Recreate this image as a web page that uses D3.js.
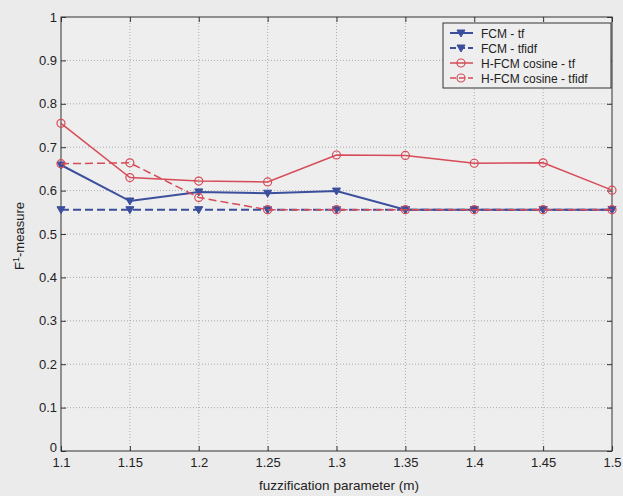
<!DOCTYPE html>
<html>
<head>
<meta charset="utf-8">
<script src="https://cdn.jsdelivr.net/npm/d3@7"></script>
<style>
  html, body { margin: 0; padding: 0; background: #ebebeb; }
  svg { display: block; font-family: "Liberation Sans", Arial, sans-serif; }
</style>
</head>
<body>
<div id="chart"></div>
<script>
// x values (fuzzification parameter m)
const mValues = [1.1, 1.15, 1.2, 1.25, 1.3, 1.35, 1.4, 1.45, 1.5];
const xTicks = [1.1, 1.15, 1.2, 1.25, 1.3, 1.35, 1.4, 1.45, 1.5];
const yTicks = [0, 0.1, 0.2, 0.3, 0.4, 0.5, 0.6, 0.7, 0.8, 0.9, 1];

// F1-measure per series
const fcmTf = [0.659, 0.576, 0.597, 0.594, 0.599, 0.556, 0.556, 0.556, 0.556];
const fcmTfidf = [0.556, 0.556, 0.556, 0.556, 0.556, 0.556, 0.556, 0.556, 0.556];
const hfcmTf = [0.755, 0.630, 0.622, 0.620, 0.682, 0.681, 0.663, 0.664, 0.601];
const hfcmTfidf = [0.662, 0.664, 0.584, 0.556, 0.556, 0.556, 0.556, 0.556, 0.556];

const seriesNames = ['FCM - tf', 'FCM - tfidf', 'H-FCM cosine - tf', 'H-FCM cosine - tfidf'];

const blue = '#3b4f9c';
const red = '#d64b57';
const series = [
    { name: seriesNames[0], values: fcmTf, color: blue, dash: null, marker: 'tri' },
    { name: seriesNames[1], values: fcmTfidf, color: blue, dash: '8,4', marker: 'tri' },
    { name: seriesNames[2], values: hfcmTf, color: red, dash: null, marker: 'circle' },
    { name: seriesNames[3], values: hfcmTfidf, color: red, dash: '8,4', marker: 'circle' }
];

const w = 623;
const h = 496;
const plotL = 61, plotR = 612, plotT = 17, plotB = 451;

const svg = d3.select('#chart')
    .append('svg')
    .attr('width', w)
    .attr('height', h);

const xScale = d3.scaleLinear().domain([1.1, 1.5]).range([plotL, plotR]);
const yScale = d3.scaleLinear().domain([0, 1]).range([plotB, plotT]);

// plot background
svg.append('rect')
    .attr('x', plotL).attr('y', plotT)
    .attr('width', plotR - plotL).attr('height', plotB - plotT)
    .attr('fill', '#eeeeee');

// dotted grid
const grid = svg.append('g').attr('stroke', '#9a9a9a').attr('stroke-width', 0.8)
    .attr('stroke-dasharray', '1,2');
grid.selectAll('line.gx')
    .data(xTicks.slice(1, -1))
    .enter().append('line')
    .attr('x1', d => xScale(d)).attr('x2', d => xScale(d))
    .attr('y1', plotT).attr('y2', plotB);
grid.selectAll('line.gy')
    .data(yTicks.slice(1, -1))
    .enter().append('line')
    .attr('x1', plotL).attr('x2', plotR)
    .attr('y1', d => yScale(d)).attr('y2', d => yScale(d));

// axes with inward ticks on all four sides
const axisStyle = g => {
    g.select('.domain').remove();
    g.selectAll('.tick line').attr('stroke', '#333');
    g.selectAll('.tick text').attr('fill', '#222').attr('font-size', 13);
};

svg.append('g')
    .attr('transform', `translate(0,${plotB})`)
    .call(d3.axisBottom(xScale).tickValues(xTicks).tickFormat(d3.format('')).tickSizeInner(-5).tickPadding(7))
    .call(axisStyle);
svg.append('g')
    .attr('transform', `translate(0,${plotT})`)
    .call(d3.axisTop(xScale).tickValues(xTicks).tickFormat('').tickSizeInner(-5))
    .call(axisStyle);
const yAxisG = svg.append('g')
    .attr('transform', `translate(${plotL},0)`)
    .call(d3.axisLeft(yScale).tickValues(yTicks).tickFormat(d3.format('')).tickSizeInner(-5).tickPadding(4))
    .call(axisStyle);
// lift the zero label clear of the first x label
yAxisG.selectAll('.tick text').filter(d => d === 0).attr('dy', '0.05em');
svg.append('g')
    .attr('transform', `translate(${plotR},0)`)
    .call(d3.axisRight(yScale).tickValues(yTicks).tickFormat('').tickSizeInner(-5))
    .call(axisStyle);

svg.append('rect')
    .attr('x', plotL).attr('y', plotT)
    .attr('width', plotR - plotL).attr('height', plotB - plotT)
    .attr('fill', 'none').attr('stroke', '#333').attr('stroke-width', 1);

// lines and markers
const line = d3.line()
    .x((d, i) => xScale(mValues[i]))
    .y(d => yScale(d));

const triPath = 'M-4,-3L4,-3L0,4Z';

function drawMarker(g, s, x, y) {
    if (s.marker === 'tri') {
        g.append('path')
            .attr('d', triPath)
            .attr('transform', `translate(${x},${y})`)
            .attr('fill', s.color).attr('stroke', s.color).attr('stroke-width', 1);
    } else {
        g.append('circle')
            .attr('cx', x).attr('cy', y).attr('r', 4)
            .attr('fill', 'none').attr('stroke', s.color).attr('stroke-width', 1.2);
    }
}

series.forEach(s => {
    const g = svg.append('g');
    g.append('path')
        .datum(s.values)
        .attr('d', line)
        .attr('fill', 'none')
        .attr('stroke', s.color)
        .attr('stroke-width', s.marker === 'tri' ? 2 : 1.5)
        .attr('stroke-dasharray', s.dash);
    s.values.forEach((v, i) => drawMarker(g, s, xScale(mValues[i]), yScale(v)));
});

// legend
const legend = svg.append('g').attr('transform', 'translate(443,23)');
legend.append('rect')
    .attr('width', 168).attr('height', 65)
    .attr('fill', '#eeeeee').attr('stroke', '#333').attr('stroke-width', 1);
series.forEach((s, i) => {
    const y = 10 + i * 15;
    legend.append('line')
        .attr('x1', 7).attr('x2', 30).attr('y1', y).attr('y2', y)
        .attr('stroke', s.color)
        .attr('stroke-width', s.marker === 'tri' ? 2 : 1.5)
        .attr('stroke-dasharray', s.dash ? '6,3' : null);
    drawMarker(legend, s, 18, y);
    legend.append('text')
        .attr('x', 38).attr('y', y + 4.5)
        .attr('font-size', 12).attr('fill', '#222')
        .text(s.name);
});

// axis titles
svg.append('text')
    .attr('x', 339).attr('y', 490)
    .attr('text-anchor', 'middle').attr('font-size', 13.5).attr('fill', '#222')
    .text('fuzzification parameter (m)');

const yLabel = svg.append('text')
    .attr('transform', `translate(24,236) rotate(-90)`)
    .attr('text-anchor', 'middle').attr('font-size', 13).attr('fill', '#222');
yLabel.append('tspan').text('F');
yLabel.append('tspan').attr('baseline-shift', 'super').attr('font-size', 9).text('1');
yLabel.append('tspan').text('-measure');
</script>
</body>
</html>
